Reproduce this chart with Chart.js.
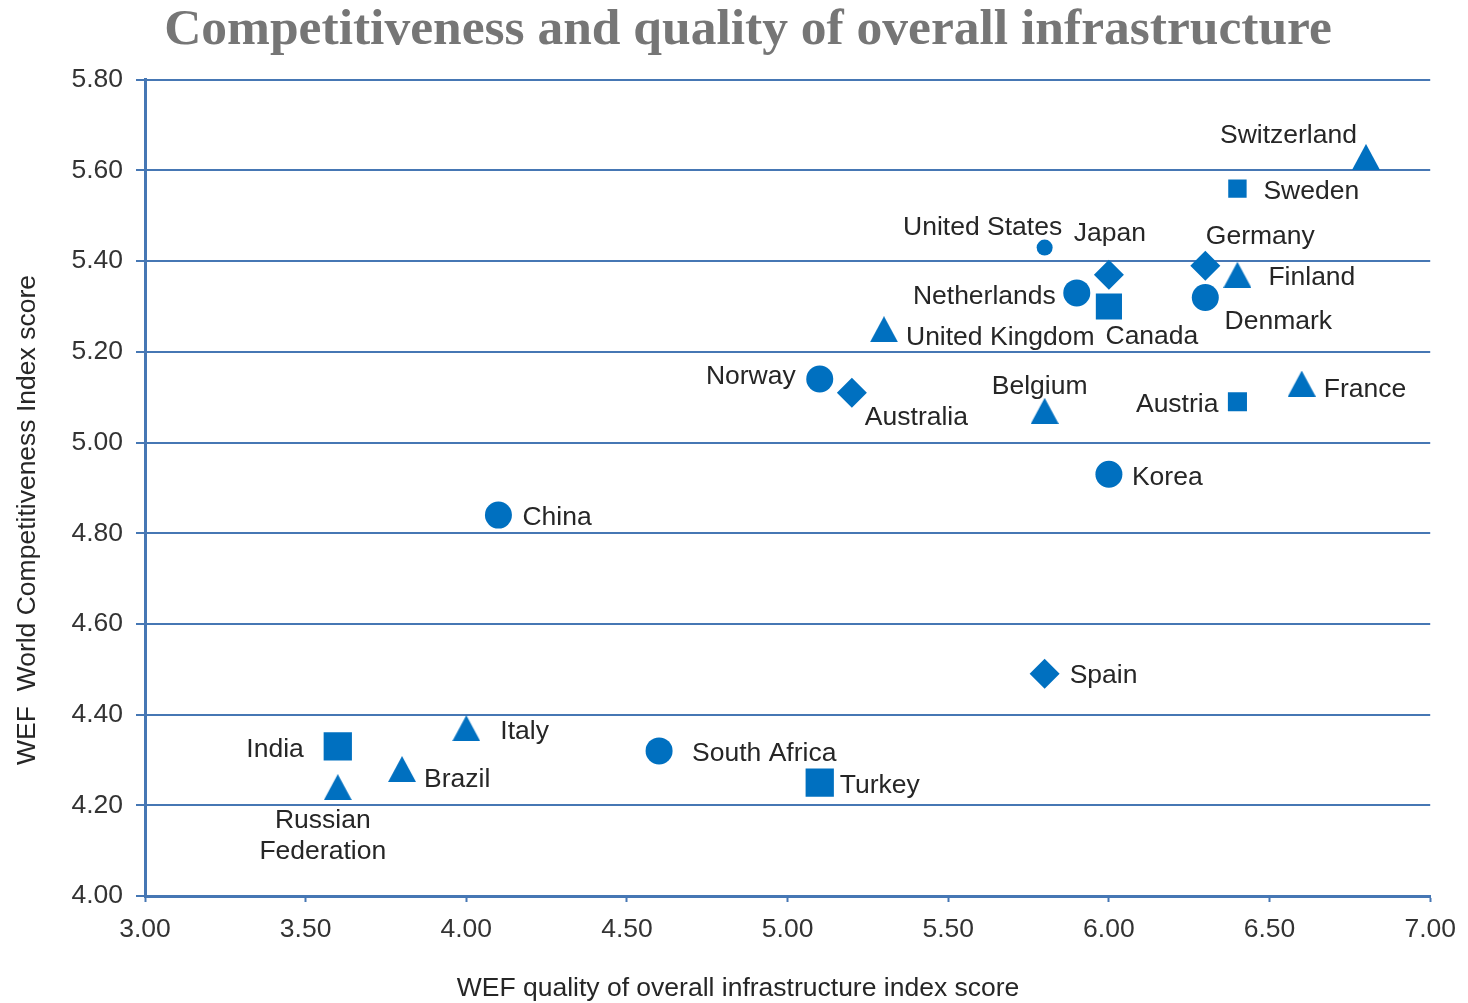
<!DOCTYPE html>
<html>
<head>
<meta charset="utf-8">
<title>Competitiveness and quality of overall infrastructure</title>
<script src="https://cdn.jsdelivr.net/npm/chart.js@4.4.0/dist/chart.umd.min.js"></script>
<style>
  html, body { margin: 0; padding: 0; background: #fff; }
  canvas { display: block; }
</style>
</head>
<body>
<canvas id="chart" width="1468" height="1003"></canvas>
<script>
// values
const countries = [
  'Switzerland', 'Sweden', 'United States', 'Japan', 'Germany', 'Finland',
  'Netherlands', 'Canada', 'Denmark', 'United Kingdom', 'Norway', 'Australia',
  'Belgium', 'Austria', 'France', 'Korea', 'China', 'Spain', 'Italy', 'India',
  'South Africa', 'Brazil', 'Russian Federation', 'Turkey'
];
const infraScores = [
  6.80, 6.40, 5.80, 6.00, 6.30, 6.40,
  5.90, 6.00, 6.30, 5.30, 5.10, 5.20,
  5.80, 6.40, 6.60, 6.00, 4.10, 5.80, 4.00, 3.60,
  4.60, 3.80, 3.60, 5.10
];
const competitivenessScores = [
  5.63, 5.56, 5.43, 5.37, 5.39, 5.37,
  5.33, 5.30, 5.32, 5.25, 5.14, 5.11,
  5.07, 5.09, 5.13, 4.93, 4.84, 4.49, 4.37, 4.33,
  4.32, 4.28, 4.24, 4.25
];
const xTickValues = [3.00, 3.50, 4.00, 4.50, 5.00, 5.50, 6.00, 6.50, 7.00];
const yTickValues = [4.00, 4.20, 4.40, 4.60, 4.80, 5.00, 5.20, 5.40, 5.60, 5.80];

// marker look
const markerShapes = [
  'triangle', 'rect', 'circle', 'rectRot', 'rectRot', 'triangle',
  'circle', 'rect', 'circle', 'triangle', 'circle', 'rectRot',
  'triangle', 'rect', 'triangle', 'circle', 'circle', 'rectRot', 'triangle', 'rect',
  'circle', 'triangle', 'triangle', 'rect'
];
const markerSizes = [
  16, 13, 8, 15, 15, 15,
  13.5, 18.5, 13.5, 15, 13.5, 15,
  15.5, 13.5, 15.5, 13.5, 13.5, 15, 15, 20,
  13.5, 15, 15, 20
];
// label placement relative to its marker: [dx, dy, align]
const labelPlace = [
  [-9, -23, 'right'], [26, 1, 'left'], [-62, -22, 'center'], [1, -43, 'center'],
  [55, -31, 'center'], [31, 1, 'left'], [-21, 2, 'right'], [43, 28, 'center'],
  [73, 22, 'center'], [22, 6, 'left'], [-24, -4, 'right'], [13, 23, 'left'],
  [-5, -26, 'center'], [-19, 1, 'right'], [22, 4, 'left'], [23, 1, 'left'],
  [24, 1, 'left'], [25, 0, 'left'], [34, 1, 'left'], [-34, 1, 'right'],
  [33, 1, 'left'], [22, 9, 'left'], [-15, 32, 'center'], [20, 1, 'left']
];

const BLUE = '#0070c0';
const AXIS = '#4677b4';
const TEXT = '#262626';
const SANS = "'Liberation Sans', Arial, sans-serif";

// Excel-style triangle, centred on its bounding box rather than its centroid
const triangleMarker = document.createElement('canvas');
triangleMarker.width = 28;
triangleMarker.height = 26;
(function () {
  const c = triangleMarker.getContext('2d');
  c.fillStyle = BLUE;
  c.beginPath();
  c.moveTo(14, 0);
  c.lineTo(28, 26);
  c.lineTo(0, 26);
  c.closePath();
  c.fill();
})();
const pointStyles = markerShapes.map(s => s === 'triangle' ? triangleMarker : s);

const labelPlugin = {
  id: 'pointLabels',
  afterDatasetsDraw(chart) {
    const ctx = chart.ctx;
    const meta = chart.getDatasetMeta(0);
    ctx.save();
    ctx.font = "26.5px " + SANS;
    ctx.fillStyle = TEXT;
    ctx.textBaseline = 'middle';
    meta.data.forEach((pt, i) => {
      const [dx, dy, align] = labelPlace[i];
      ctx.textAlign = align;
      let name = countries[i];
      let lines = name === 'Russian Federation' ? ['Russian', 'Federation'] : [name];
      lines.forEach((ln, k) => ctx.fillText(ln, pt.x + dx, pt.y + dy + 2 + k * 31));
    });
    ctx.restore();
  }
};

const axisTitlePlugin = {
  id: 'axisTitles',
  afterDraw(chart) {
    const ctx = chart.ctx;
    ctx.save();
    ctx.font = "26.5px " + SANS;
    ctx.fillStyle = TEXT;
    ctx.textAlign = 'center';
    ctx.textBaseline = 'middle';
    ctx.fillText('WEF quality of overall infrastructure index score', 738, 989);
    ctx.translate(28, 520);
    ctx.rotate(-Math.PI / 2);
    ctx.fillText('WEF  World Competitiveness Index score', 0, 0);
    ctx.restore();
  }
};

new Chart(document.getElementById('chart'), {
  type: 'scatter',
  data: {
    datasets: [{
      label: 'Countries',
      data: infraScores.map((x, i) => ({ x: x, y: competitivenessScores[i] })),
      pointStyle: pointStyles,
      pointRadius: markerSizes,
      pointHoverRadius: markerSizes,
      backgroundColor: BLUE,
      borderColor: BLUE,
      borderWidth: 0
    }]
  },
  options: {
    responsive: false,
    animation: false,
    layout: { padding: { left: 64, right: 36, top: 0, bottom: 0 } },
    plugins: {
      legend: { display: false },
      tooltip: { enabled: false },
      title: {
        display: true,
        text: 'Competitiveness and quality of overall infrastructure',
        color: '#767676',
        font: { family: "'Liberation Serif', 'Times New Roman', serif", size: 51.5, weight: 'bold' },
        padding: { top: 0, bottom: 18 }
      }
    },
    scales: {
      x: {
        type: 'linear',
        min: xTickValues[0],
        max: xTickValues[xTickValues.length - 1],
        afterBuildTicks: s => { s.ticks = xTickValues.map(v => ({ value: v })); },
        afterFit: s => { s.height = 107; },
        grid: { drawOnChartArea: false, drawTicks: true, tickLength: 6, tickColor: AXIS, tickWidth: 2 },
        border: { color: AXIS, width: 3 },
        ticks: {
          color: '#333',
          font: { family: SANS, size: 26.5 },
          padding: 12,
          maxRotation: 0,
          callback: v => v.toFixed(2)
        }
      },
      y: {
        type: 'linear',
        min: yTickValues[0],
        max: yTickValues[yTickValues.length - 1],
        afterBuildTicks: s => { s.ticks = yTickValues.map(v => ({ value: v })); },
        afterFit: s => { s.width = 81; },
        grid: { color: AXIS, lineWidth: 2, drawTicks: true, tickLength: 9, tickColor: AXIS, tickWidth: 2 },
        border: { color: AXIS, width: 3 },
        ticks: {
          color: '#333',
          font: { family: SANS, size: 26.5 },
          padding: 13,
          callback: v => v.toFixed(2)
        }
      }
    }
  },
  plugins: [labelPlugin, axisTitlePlugin]
});
</script>
</body>
</html>
